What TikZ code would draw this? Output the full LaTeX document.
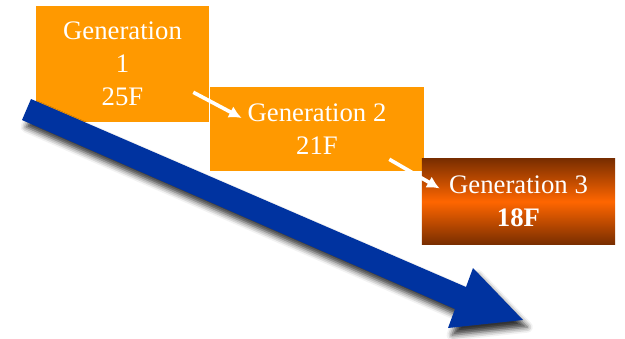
\documentclass[tikz,border=0pt]{standalone}
\usepackage{fontspec}
\setmainfont{Liberation Serif}
\usetikzlibrary{arrows.meta,shadows.blur}

\definecolor{genorange}{HTML}{FF9900}
\definecolor{hotorange}{HTML}{FF6600}
\definecolor{burnt}{HTML}{7A2E00}
\definecolor{timeblue}{HTML}{0033A0}

\begin{document}
\begin{tikzpicture}[x=0.025cm,y=-0.025cm,
    gen/.style={fill=genorange,text=white,align=center,inner sep=0pt,
        font=\fontsize{19}{23.5}\selectfont},
    genlast/.style={gen,top color=burnt,bottom color=burnt,middle color=hotorange},
    pass/.style={draw=white,line width=2.6pt,-{Latex[length=9pt,width=9pt]}}]
    \useasboundingbox (0,0) rectangle (625,338);

    \node[gen,minimum width=4.325cm,minimum height=2.9cm] (gen1) at (122.5,64)
        {Generation\\1\\25F};
    \node[gen,minimum width=5.35cm,minimum height=2.1cm] (gen2) at (317,129)
        {Generation 2\\21F};
    \node[genlast,minimum width=4.825cm,minimum height=2.125cm] (gen3) at (518.5,201.5)
        {Generation 3\\\textbf{18F}};

    \draw[pass] ([shift={(-16,-30)}]gen1.south east) -- ([shift={(32,-11)}]gen2.west);
    \draw[pass] ([shift={(-35,-12)}]gen2.south east) -- ([shift={(18,-13)}]gen3.west);

    % time arrow
    \fill[timeblue,blur shadow={shadow xshift=3pt,shadow yshift=-5pt,
            shadow blur radius=4pt,shadow opacity=80}]
        (31,99) -- (466,287) -- (473,268) -- (523,320) -- (448,328)
        -- (455,309) -- (22,120) -- cycle;
\end{tikzpicture}
\end{document}
